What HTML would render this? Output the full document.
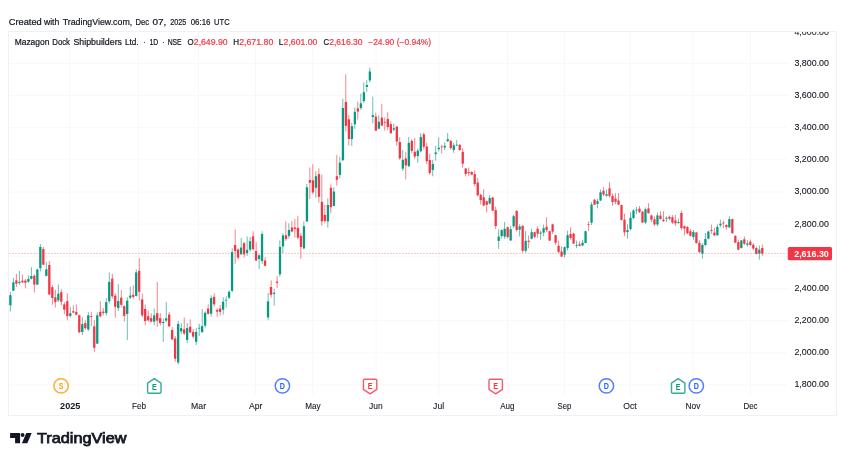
<!DOCTYPE html>
<html lang="en"><head><meta charset="utf-8"><title>Mazagon Dock Shipbuilders Ltd. chart</title>
<style>html,body{margin:0;padding:0;background:#fff}body{width:849px;height:458px;overflow:hidden}svg{display:block}text{font-family:"Liberation Sans",sans-serif}</style>
</head><body>
<svg width="849" height="458" viewBox="0 0 849 458">
<rect width="849" height="458" fill="#fff"/>
<g stroke="#f7f8fa" stroke-width="1">
<line x1="8.5" y1="384.9" x2="787.5" y2="384.9"/>
<line x1="8.5" y1="352.8" x2="787.5" y2="352.8"/>
<line x1="8.5" y1="320.6" x2="787.5" y2="320.6"/>
<line x1="8.5" y1="288.4" x2="787.5" y2="288.4"/>
<line x1="8.5" y1="256.3" x2="787.5" y2="256.3"/>
<line x1="8.5" y1="224.1" x2="787.5" y2="224.1"/>
<line x1="8.5" y1="192.0" x2="787.5" y2="192.0"/>
<line x1="8.5" y1="159.8" x2="787.5" y2="159.8"/>
<line x1="8.5" y1="127.7" x2="787.5" y2="127.7"/>
<line x1="8.5" y1="95.5" x2="787.5" y2="95.5"/>
<line x1="8.5" y1="63.4" x2="787.5" y2="63.4"/>
<line x1="69.4" y1="31.5" x2="69.4" y2="395.5"/>
<line x1="138.6" y1="31.5" x2="138.6" y2="395.5"/>
<line x1="198.6" y1="31.5" x2="198.6" y2="395.5"/>
<line x1="255.6" y1="31.5" x2="255.6" y2="395.5"/>
<line x1="312.8" y1="31.5" x2="312.8" y2="395.5"/>
<line x1="376" y1="31.5" x2="376" y2="395.5"/>
<line x1="439" y1="31.5" x2="439" y2="395.5"/>
<line x1="507.4" y1="31.5" x2="507.4" y2="395.5"/>
<line x1="564.4" y1="31.5" x2="564.4" y2="395.5"/>
<line x1="630" y1="31.5" x2="630" y2="395.5"/>
<line x1="693" y1="31.5" x2="693" y2="395.5"/>
<line x1="750.5" y1="31.5" x2="750.5" y2="395.5"/>
</g>
<rect x="8.5" y="31.5" width="828.0" height="384.0" fill="none" stroke="#f0f1f4" stroke-width="1"/>
<g id="candles">
<path d="M10.42 292.0V311.5" stroke="#089981" stroke-width="0.62" fill="none"/><rect x="9.24" y="295.2" width="2.3" height="10.1" fill="#089981"/>
<path d="M13.42 278.0V291.2" stroke="#089981" stroke-width="0.62" fill="none"/><rect x="12.23" y="282.3" width="2.3" height="8.4" fill="#089981"/>
<path d="M16.41 273.8V287.0" stroke="#F23645" stroke-width="0.62" fill="none"/><rect x="15.23" y="280.4" width="2.3" height="3.3" fill="#F23645"/>
<path d="M19.41 271.0V285.1" stroke="#089981" stroke-width="0.62" fill="none"/><rect x="18.22" y="281.8" width="2.3" height="1.1" fill="#089981"/>
<path d="M22.41 274.7V283.2" stroke="#F23645" stroke-width="0.62" fill="none"/><rect x="21.22" y="280.7" width="2.3" height="1.6" fill="#F23645"/>
<path d="M25.41 279.0V288.2" stroke="#F23645" stroke-width="0.62" fill="none"/><rect x="24.21" y="280.6" width="2.3" height="2.1" fill="#F23645"/>
<path d="M28.40 275.2V282.7" stroke="#089981" stroke-width="0.62" fill="none"/><rect x="27.21" y="279.0" width="2.3" height="2.8" fill="#089981"/>
<path d="M31.40 267.2V279.4" stroke="#089981" stroke-width="0.62" fill="none"/><rect x="30.21" y="276.0" width="2.3" height="2.8" fill="#089981"/>
<path d="M34.40 274.3V292.6" stroke="#F23645" stroke-width="0.62" fill="none"/><rect x="33.20" y="275.7" width="2.3" height="8.9" fill="#F23645"/>
<path d="M37.39 268.6V285.0" stroke="#089981" stroke-width="0.62" fill="none"/><rect x="36.20" y="269.5" width="2.3" height="15.1" fill="#089981"/>
<path d="M40.39 244.0V271.4" stroke="#089981" stroke-width="0.62" fill="none"/><rect x="39.19" y="247.0" width="2.3" height="21.1" fill="#089981"/>
<path d="M43.39 247.0V265.0" stroke="#F23645" stroke-width="0.62" fill="none"/><rect x="42.19" y="249.0" width="2.3" height="15.7" fill="#F23645"/>
<path d="M46.38 262.1V276.5" stroke="#089981" stroke-width="0.62" fill="none"/><rect x="45.18" y="269.3" width="2.3" height="6.6" fill="#089981"/>
<path d="M49.38 261.0V295.4" stroke="#F23645" stroke-width="0.62" fill="none"/><rect x="48.18" y="265.0" width="2.3" height="29.5" fill="#F23645"/>
<path d="M52.38 285.1V304.8" stroke="#F23645" stroke-width="0.62" fill="none"/><rect x="51.18" y="287.2" width="2.3" height="10.8" fill="#F23645"/>
<path d="M55.38 289.7V307.6" stroke="#F23645" stroke-width="0.62" fill="none"/><rect x="54.17" y="297.3" width="2.3" height="4.9" fill="#F23645"/>
<path d="M58.37 284.4V302.0" stroke="#089981" stroke-width="0.62" fill="none"/><rect x="57.17" y="293.7" width="2.3" height="6.7" fill="#089981"/>
<path d="M61.37 289.2V305.3" stroke="#F23645" stroke-width="0.62" fill="none"/><rect x="60.16" y="292.2" width="2.3" height="9.5" fill="#F23645"/>
<path d="M64.37 302.0V314.2" stroke="#F23645" stroke-width="0.62" fill="none"/><rect x="63.16" y="304.3" width="2.3" height="5.4" fill="#F23645"/>
<path d="M67.36 293.3V320.3" stroke="#F23645" stroke-width="0.62" fill="none"/><rect x="66.15" y="301.2" width="2.3" height="14.9" fill="#F23645"/>
<path d="M70.36 307.1V317.5" stroke="#089981" stroke-width="0.62" fill="none"/><rect x="69.15" y="313.3" width="2.3" height="2.6" fill="#089981"/>
<path d="M73.36 305.3V313.3" stroke="#F23645" stroke-width="0.62" fill="none"/><rect x="72.15" y="311.2" width="2.3" height="1.3" fill="#F23645"/>
<path d="M76.35 304.3V315.2" stroke="#F23645" stroke-width="0.62" fill="none"/><rect x="75.14" y="311.9" width="2.3" height="2.8" fill="#F23645"/>
<path d="M79.35 314.5V333.2" stroke="#F23645" stroke-width="0.62" fill="none"/><rect x="78.14" y="315.3" width="2.3" height="17.0" fill="#F23645"/>
<path d="M82.35 317.2V335.1" stroke="#089981" stroke-width="0.62" fill="none"/><rect x="81.13" y="324.1" width="2.3" height="7.9" fill="#089981"/>
<path d="M85.34 320.5V329.9" stroke="#F23645" stroke-width="0.62" fill="none"/><rect x="84.13" y="323.1" width="2.3" height="5.1" fill="#F23645"/>
<path d="M88.34 312.1V331.3" stroke="#089981" stroke-width="0.62" fill="none"/><rect x="87.12" y="315.3" width="2.3" height="14.1" fill="#089981"/>
<path d="M91.34 312.1V326.1" stroke="#F23645" stroke-width="0.62" fill="none"/><rect x="90.12" y="316.0" width="2.3" height="0.9" fill="#F23645"/>
<path d="M94.34 320.0V352.0" stroke="#F23645" stroke-width="0.62" fill="none"/><rect x="93.12" y="326.3" width="2.3" height="21.5" fill="#F23645"/>
<path d="M97.33 312.4V344.0" stroke="#089981" stroke-width="0.62" fill="none"/><rect x="96.11" y="315.3" width="2.3" height="28.3" fill="#089981"/>
<path d="M100.33 301.2V317.5" stroke="#F23645" stroke-width="0.62" fill="none"/><rect x="99.11" y="311.9" width="2.3" height="4.3" fill="#F23645"/>
<path d="M103.33 308.1V315.3" stroke="#F23645" stroke-width="0.62" fill="none"/><rect x="102.10" y="311.6" width="2.3" height="1.3" fill="#F23645"/>
<path d="M106.32 298.2V315.5" stroke="#089981" stroke-width="0.62" fill="none"/><rect x="105.10" y="302.2" width="2.3" height="10.9" fill="#089981"/>
<path d="M109.32 272.4V303.3" stroke="#089981" stroke-width="0.62" fill="none"/><rect x="108.09" y="281.9" width="2.3" height="19.3" fill="#089981"/>
<path d="M112.32 273.9V298.6" stroke="#F23645" stroke-width="0.62" fill="none"/><rect x="111.09" y="278.6" width="2.3" height="17.7" fill="#F23645"/>
<path d="M115.31 293.3V317.7" stroke="#F23645" stroke-width="0.62" fill="none"/><rect x="114.09" y="295.7" width="2.3" height="11.1" fill="#F23645"/>
<path d="M118.31 284.2V311.0" stroke="#089981" stroke-width="0.62" fill="none"/><rect x="117.08" y="301.1" width="2.3" height="7.0" fill="#089981"/>
<path d="M121.31 289.9V307.5" stroke="#F23645" stroke-width="0.62" fill="none"/><rect x="120.08" y="297.7" width="2.3" height="7.1" fill="#F23645"/>
<path d="M124.31 305.0V321.6" stroke="#F23645" stroke-width="0.62" fill="none"/><rect x="123.07" y="306.2" width="2.3" height="9.7" fill="#F23645"/>
<path d="M127.30 297.1V340.0" stroke="#089981" stroke-width="0.62" fill="none"/><rect x="126.07" y="300.6" width="2.3" height="13.4" fill="#089981"/>
<path d="M130.30 286.6V299.0" stroke="#089981" stroke-width="0.62" fill="none"/><rect x="129.06" y="295.6" width="2.3" height="2.1" fill="#089981"/>
<path d="M133.30 285.6V298.7" stroke="#F23645" stroke-width="0.62" fill="none"/><rect x="132.06" y="294.8" width="2.3" height="2.1" fill="#F23645"/>
<path d="M136.29 269.6V296.6" stroke="#089981" stroke-width="0.62" fill="none"/><rect x="135.06" y="272.4" width="2.3" height="23.5" fill="#089981"/>
<path d="M139.29 258.3V300.4" stroke="#F23645" stroke-width="0.62" fill="none"/><rect x="138.05" y="270.8" width="2.3" height="21.0" fill="#F23645"/>
<path d="M142.29 293.5V317.3" stroke="#F23645" stroke-width="0.62" fill="none"/><rect x="141.05" y="299.4" width="2.3" height="15.9" fill="#F23645"/>
<path d="M145.28 304.6V325.3" stroke="#F23645" stroke-width="0.62" fill="none"/><rect x="144.04" y="309.0" width="2.3" height="12.1" fill="#F23645"/>
<path d="M148.28 310.3V321.6" stroke="#F23645" stroke-width="0.62" fill="none"/><rect x="147.04" y="316.2" width="2.3" height="4.1" fill="#F23645"/>
<path d="M151.28 313.4V322.2" stroke="#F23645" stroke-width="0.62" fill="none"/><rect x="150.03" y="318.1" width="2.3" height="3.5" fill="#F23645"/>
<path d="M154.28 308.4V325.3" stroke="#089981" stroke-width="0.62" fill="none"/><rect x="153.03" y="315.3" width="2.3" height="6.3" fill="#089981"/>
<path d="M157.27 281.9V326.8" stroke="#F23645" stroke-width="0.62" fill="none"/><rect x="156.03" y="313.1" width="2.3" height="7.5" fill="#F23645"/>
<path d="M160.27 313.1V325.6" stroke="#F23645" stroke-width="0.62" fill="none"/><rect x="159.02" y="318.1" width="2.3" height="4.9" fill="#F23645"/>
<path d="M163.27 318.7V342.0" stroke="#089981" stroke-width="0.62" fill="none"/><rect x="162.02" y="322.0" width="2.3" height="1.0" fill="#089981"/>
<path d="M166.26 302.1V322.0" stroke="#089981" stroke-width="0.62" fill="none"/><rect x="165.01" y="318.3" width="2.3" height="2.3" fill="#089981"/>
<path d="M169.26 312.1V327.2" stroke="#F23645" stroke-width="0.62" fill="none"/><rect x="168.01" y="314.5" width="2.3" height="11.8" fill="#F23645"/>
<path d="M172.26 327.1V340.0" stroke="#F23645" stroke-width="0.62" fill="none"/><rect x="171.00" y="330.0" width="2.3" height="9.4" fill="#F23645"/>
<path d="M175.25 336.1V361.6" stroke="#F23645" stroke-width="0.62" fill="none"/><rect x="174.00" y="338.5" width="2.3" height="20.3" fill="#F23645"/>
<path d="M178.25 320.9V364.4" stroke="#089981" stroke-width="0.62" fill="none"/><rect x="177.00" y="323.9" width="2.3" height="38.6" fill="#089981"/>
<path d="M181.25 323.0V334.3" stroke="#089981" stroke-width="0.62" fill="none"/><rect x="179.99" y="328.1" width="2.3" height="3.3" fill="#089981"/>
<path d="M184.25 317.5V335.2" stroke="#F23645" stroke-width="0.62" fill="none"/><rect x="182.99" y="329.4" width="2.3" height="4.1" fill="#F23645"/>
<path d="M187.24 323.0V343.2" stroke="#089981" stroke-width="0.62" fill="none"/><rect x="185.98" y="328.1" width="2.3" height="11.8" fill="#089981"/>
<path d="M190.24 319.4V333.3" stroke="#F23645" stroke-width="0.62" fill="none"/><rect x="188.98" y="326.8" width="2.3" height="5.6" fill="#F23645"/>
<path d="M193.24 329.0V338.5" stroke="#F23645" stroke-width="0.62" fill="none"/><rect x="191.97" y="331.9" width="2.3" height="4.7" fill="#F23645"/>
<path d="M196.23 328.1V345.1" stroke="#089981" stroke-width="0.62" fill="none"/><rect x="194.97" y="331.9" width="2.3" height="9.9" fill="#089981"/>
<path d="M199.23 323.8V336.1" stroke="#089981" stroke-width="0.62" fill="none"/><rect x="197.97" y="327.8" width="2.3" height="0.8" fill="#089981"/>
<path d="M202.23 309.0V332.6" stroke="#089981" stroke-width="0.62" fill="none"/><rect x="200.96" y="326.1" width="2.3" height="6.1" fill="#089981"/>
<path d="M205.22 311.4V327.6" stroke="#089981" stroke-width="0.62" fill="none"/><rect x="203.96" y="312.8" width="2.3" height="12.8" fill="#089981"/>
<path d="M208.22 304.3V314.7" stroke="#F23645" stroke-width="0.62" fill="none"/><rect x="206.95" y="308.6" width="2.3" height="5.1" fill="#F23645"/>
<path d="M211.22 295.4V316.6" stroke="#089981" stroke-width="0.62" fill="none"/><rect x="209.95" y="298.0" width="2.3" height="15.7" fill="#089981"/>
<path d="M214.22 293.3V306.7" stroke="#F23645" stroke-width="0.62" fill="none"/><rect x="212.94" y="296.8" width="2.3" height="7.5" fill="#F23645"/>
<path d="M217.21 308.1V316.9" stroke="#F23645" stroke-width="0.62" fill="none"/><rect x="215.94" y="310.0" width="2.3" height="1.6" fill="#F23645"/>
<path d="M220.21 304.8V315.6" stroke="#F23645" stroke-width="0.62" fill="none"/><rect x="218.93" y="308.6" width="2.3" height="3.3" fill="#F23645"/>
<path d="M223.21 297.3V314.7" stroke="#089981" stroke-width="0.62" fill="none"/><rect x="221.93" y="301.8" width="2.3" height="7.9" fill="#089981"/>
<path d="M226.20 296.3V307.6" stroke="#089981" stroke-width="0.62" fill="none"/><rect x="224.93" y="299.9" width="2.3" height="0.7" fill="#089981"/>
<path d="M229.20 290.2V299.0" stroke="#089981" stroke-width="0.62" fill="none"/><rect x="227.92" y="291.8" width="2.3" height="5.9" fill="#089981"/>
<path d="M232.20 248.3V292.1" stroke="#089981" stroke-width="0.62" fill="none"/><rect x="230.92" y="252.0" width="2.3" height="38.8" fill="#089981"/>
<path d="M235.19 229.4V263.8" stroke="#F23645" stroke-width="0.62" fill="none"/><rect x="233.91" y="245.0" width="2.3" height="6.1" fill="#F23645"/>
<path d="M238.19 248.3V259.6" stroke="#F23645" stroke-width="0.62" fill="none"/><rect x="236.91" y="249.5" width="2.3" height="8.2" fill="#F23645"/>
<path d="M241.19 237.9V255.3" stroke="#089981" stroke-width="0.62" fill="none"/><rect x="239.90" y="247.6" width="2.3" height="6.6" fill="#089981"/>
<path d="M244.19 242.1V257.7" stroke="#F23645" stroke-width="0.62" fill="none"/><rect x="242.90" y="243.1" width="2.3" height="11.3" fill="#F23645"/>
<path d="M247.18 236.5V255.8" stroke="#089981" stroke-width="0.62" fill="none"/><rect x="245.90" y="249.9" width="2.3" height="3.1" fill="#089981"/>
<path d="M250.18 237.0V251.6" stroke="#089981" stroke-width="0.62" fill="none"/><rect x="248.89" y="241.2" width="2.3" height="8.5" fill="#089981"/>
<path d="M253.18 231.3V250.6" stroke="#F23645" stroke-width="0.62" fill="none"/><rect x="251.89" y="236.3" width="2.3" height="12.9" fill="#F23645"/>
<path d="M256.17 242.1V261.0" stroke="#F23645" stroke-width="0.62" fill="none"/><rect x="254.88" y="251.1" width="2.3" height="9.4" fill="#F23645"/>
<path d="M259.17 254.4V269.1" stroke="#089981" stroke-width="0.62" fill="none"/><rect x="257.88" y="255.3" width="2.3" height="3.8" fill="#089981"/>
<path d="M262.17 231.3V263.8" stroke="#089981" stroke-width="0.62" fill="none"/><rect x="260.87" y="234.1" width="2.3" height="26.9" fill="#089981"/>
<path d="M265.16 257.2V266.2" stroke="#F23645" stroke-width="0.62" fill="none"/><rect x="263.87" y="260.5" width="2.3" height="5.3" fill="#F23645"/>
<path d="M268.16 292.8V320.2" stroke="#089981" stroke-width="0.62" fill="none"/><rect x="266.87" y="301.4" width="2.3" height="15.9" fill="#089981"/>
<path d="M271.16 280.4V297.7" stroke="#F23645" stroke-width="0.62" fill="none"/><rect x="269.86" y="287.0" width="2.3" height="7.9" fill="#F23645"/>
<path d="M274.16 288.9V305.6" stroke="#089981" stroke-width="0.62" fill="none"/><rect x="272.86" y="292.7" width="2.3" height="1.2" fill="#089981"/>
<path d="M277.15 276.1V287.9" stroke="#F23645" stroke-width="0.62" fill="none"/><rect x="275.85" y="281.6" width="2.3" height="1.3" fill="#F23645"/>
<path d="M279.85 240.3V276.6" stroke="#089981" stroke-width="0.62" fill="none"/><rect x="278.85" y="246.9" width="2.3" height="27.4" fill="#089981"/>
<path d="M282.85 233.2V253.0" stroke="#089981" stroke-width="0.62" fill="none"/><rect x="281.84" y="235.4" width="2.3" height="11.0" fill="#089981"/>
<path d="M285.84 221.4V240.8" stroke="#F23645" stroke-width="0.62" fill="none"/><rect x="284.84" y="235.3" width="2.3" height="3.6" fill="#F23645"/>
<path d="M288.84 223.3V238.5" stroke="#089981" stroke-width="0.62" fill="none"/><rect x="287.84" y="230.0" width="2.3" height="5.9" fill="#089981"/>
<path d="M291.84 221.0V232.3" stroke="#F23645" stroke-width="0.62" fill="none"/><rect x="290.83" y="227.5" width="2.3" height="4.0" fill="#F23645"/>
<path d="M294.83 219.1V237.6" stroke="#F23645" stroke-width="0.62" fill="none"/><rect x="293.83" y="227.5" width="2.3" height="1.5" fill="#F23645"/>
<path d="M297.83 215.8V239.4" stroke="#F23645" stroke-width="0.62" fill="none"/><rect x="296.82" y="227.9" width="2.3" height="9.7" fill="#F23645"/>
<path d="M300.83 232.8V258.8" stroke="#F23645" stroke-width="0.62" fill="none"/><rect x="299.82" y="235.8" width="2.3" height="11.2" fill="#F23645"/>
<path d="M303.83 221.4V249.0" stroke="#089981" stroke-width="0.62" fill="none"/><rect x="302.81" y="226.2" width="2.3" height="22.2" fill="#089981"/>
<path d="M306.82 184.0V222.0" stroke="#089981" stroke-width="0.62" fill="none"/><rect x="305.81" y="187.3" width="2.3" height="34.1" fill="#089981"/>
<path d="M309.82 167.5V199.2" stroke="#F23645" stroke-width="0.62" fill="none"/><rect x="308.81" y="180.0" width="2.3" height="2.8" fill="#F23645"/>
<path d="M312.82 164.2V194.4" stroke="#F23645" stroke-width="0.62" fill="none"/><rect x="311.80" y="180.3" width="2.3" height="12.2" fill="#F23645"/>
<path d="M315.81 171.3V197.7" stroke="#089981" stroke-width="0.62" fill="none"/><rect x="314.80" y="176.2" width="2.3" height="11.6" fill="#089981"/>
<path d="M318.81 168.3V202.6" stroke="#F23645" stroke-width="0.62" fill="none"/><rect x="317.79" y="174.1" width="2.3" height="22.7" fill="#F23645"/>
<path d="M321.81 174.6V225.7" stroke="#F23645" stroke-width="0.62" fill="none"/><rect x="320.79" y="201.8" width="2.3" height="19.6" fill="#F23645"/>
<path d="M324.80 205.0V223.3" stroke="#F23645" stroke-width="0.62" fill="none"/><rect x="323.78" y="214.9" width="2.3" height="6.1" fill="#F23645"/>
<path d="M327.80 198.3V227.6" stroke="#089981" stroke-width="0.62" fill="none"/><rect x="326.78" y="205.0" width="2.3" height="16.4" fill="#089981"/>
<path d="M330.80 184.5V213.4" stroke="#F23645" stroke-width="0.62" fill="none"/><rect x="329.78" y="187.8" width="2.3" height="19.5" fill="#F23645"/>
<path d="M333.80 187.3V206.5" stroke="#089981" stroke-width="0.62" fill="none"/><rect x="332.77" y="191.6" width="2.3" height="14.3" fill="#089981"/>
<path d="M336.79 155.0V185.6" stroke="#F23645" stroke-width="0.62" fill="none"/><rect x="335.77" y="176.2" width="2.3" height="3.6" fill="#F23645"/>
<path d="M339.79 156.9V178.4" stroke="#089981" stroke-width="0.62" fill="none"/><rect x="338.76" y="162.7" width="2.3" height="12.2" fill="#089981"/>
<path d="M342.79 98.6V161.0" stroke="#089981" stroke-width="0.62" fill="none"/><rect x="341.76" y="108.0" width="2.3" height="52.2" fill="#089981"/>
<path d="M345.78 74.3V131.4" stroke="#F23645" stroke-width="0.62" fill="none"/><rect x="344.75" y="101.9" width="2.3" height="23.9" fill="#F23645"/>
<path d="M348.78 115.1V145.6" stroke="#F23645" stroke-width="0.62" fill="none"/><rect x="347.75" y="119.3" width="2.3" height="19.7" fill="#F23645"/>
<path d="M351.78 123.0V146.0" stroke="#089981" stroke-width="0.62" fill="none"/><rect x="350.75" y="126.1" width="2.3" height="12.9" fill="#089981"/>
<path d="M354.77 107.6V129.0" stroke="#089981" stroke-width="0.62" fill="none"/><rect x="353.74" y="111.8" width="2.3" height="12.4" fill="#089981"/>
<path d="M357.77 101.4V119.6" stroke="#F23645" stroke-width="0.62" fill="none"/><rect x="356.74" y="108.3" width="2.3" height="3.2" fill="#F23645"/>
<path d="M360.77 93.7V109.9" stroke="#089981" stroke-width="0.62" fill="none"/><rect x="359.73" y="103.3" width="2.3" height="4.7" fill="#089981"/>
<path d="M363.77 82.3V102.9" stroke="#089981" stroke-width="0.62" fill="none"/><rect x="362.73" y="92.2" width="2.3" height="8.8" fill="#089981"/>
<path d="M366.76 80.0V91.9" stroke="#089981" stroke-width="0.62" fill="none"/><rect x="365.72" y="85.0" width="2.3" height="1.9" fill="#089981"/>
<path d="M369.76 67.7V82.3" stroke="#089981" stroke-width="0.62" fill="none"/><rect x="368.72" y="71.5" width="2.3" height="8.9" fill="#089981"/>
<path d="M372.76 96.6V123.2" stroke="#089981" stroke-width="0.62" fill="none"/><rect x="371.72" y="115.1" width="2.3" height="1.9" fill="#089981"/>
<path d="M375.75 112.7V131.0" stroke="#F23645" stroke-width="0.62" fill="none"/><rect x="374.71" y="116.6" width="2.3" height="14.0" fill="#F23645"/>
<path d="M378.75 115.4V129.2" stroke="#089981" stroke-width="0.62" fill="none"/><rect x="377.71" y="121.8" width="2.3" height="6.9" fill="#089981"/>
<path d="M381.75 103.8V126.2" stroke="#F23645" stroke-width="0.62" fill="none"/><rect x="380.70" y="117.6" width="2.3" height="8.0" fill="#F23645"/>
<path d="M384.74 117.4V130.6" stroke="#F23645" stroke-width="0.62" fill="none"/><rect x="383.70" y="122.1" width="2.3" height="0.7" fill="#F23645"/>
<path d="M387.74 112.3V130.3" stroke="#F23645" stroke-width="0.62" fill="none"/><rect x="386.69" y="119.0" width="2.3" height="8.0" fill="#F23645"/>
<path d="M390.74 121.3V133.7" stroke="#F23645" stroke-width="0.62" fill="none"/><rect x="389.69" y="124.2" width="2.3" height="9.0" fill="#F23645"/>
<path d="M393.73 123.6V131.2" stroke="#089981" stroke-width="0.62" fill="none"/><rect x="392.69" y="128.3" width="2.3" height="1.4" fill="#089981"/>
<path d="M396.73 126.0V145.8" stroke="#F23645" stroke-width="0.62" fill="none"/><rect x="395.68" y="126.6" width="2.3" height="14.9" fill="#F23645"/>
<path d="M399.73 137.2V159.8" stroke="#F23645" stroke-width="0.62" fill="none"/><rect x="398.68" y="142.0" width="2.3" height="16.4" fill="#F23645"/>
<path d="M402.73 149.9V171.1" stroke="#089981" stroke-width="0.62" fill="none"/><rect x="401.67" y="159.8" width="2.3" height="8.9" fill="#089981"/>
<path d="M405.72 151.7V179.6" stroke="#F23645" stroke-width="0.62" fill="none"/><rect x="404.67" y="158.4" width="2.3" height="7.0" fill="#F23645"/>
<path d="M408.72 136.9V166.9" stroke="#089981" stroke-width="0.62" fill="none"/><rect x="407.66" y="142.9" width="2.3" height="23.3" fill="#089981"/>
<path d="M411.72 139.2V153.2" stroke="#F23645" stroke-width="0.62" fill="none"/><rect x="410.66" y="140.9" width="2.3" height="10.0" fill="#F23645"/>
<path d="M414.71 137.8V158.9" stroke="#F23645" stroke-width="0.62" fill="none"/><rect x="413.66" y="151.8" width="2.3" height="4.7" fill="#F23645"/>
<path d="M417.71 148.5V162.6" stroke="#089981" stroke-width="0.62" fill="none"/><rect x="416.65" y="150.7" width="2.3" height="5.3" fill="#089981"/>
<path d="M420.71 133.1V152.3" stroke="#089981" stroke-width="0.62" fill="none"/><rect x="419.65" y="137.1" width="2.3" height="14.1" fill="#089981"/>
<path d="M423.70 132.6V149.5" stroke="#F23645" stroke-width="0.62" fill="none"/><rect x="422.64" y="134.3" width="2.3" height="12.4" fill="#F23645"/>
<path d="M426.70 142.7V164.0" stroke="#F23645" stroke-width="0.62" fill="none"/><rect x="425.64" y="146.5" width="2.3" height="14.7" fill="#F23645"/>
<path d="M429.70 153.7V174.9" stroke="#F23645" stroke-width="0.62" fill="none"/><rect x="428.63" y="160.0" width="2.3" height="13.0" fill="#F23645"/>
<path d="M432.70 159.8V176.3" stroke="#089981" stroke-width="0.62" fill="none"/><rect x="431.63" y="164.0" width="2.3" height="6.0" fill="#089981"/>
<path d="M435.69 146.0V160.7" stroke="#089981" stroke-width="0.62" fill="none"/><rect x="434.63" y="152.4" width="2.3" height="1.7" fill="#089981"/>
<path d="M438.69 137.3V151.4" stroke="#089981" stroke-width="0.62" fill="none"/><rect x="437.62" y="147.7" width="2.3" height="1.5" fill="#089981"/>
<path d="M441.69 144.8V153.5" stroke="#F23645" stroke-width="0.62" fill="none"/><rect x="440.62" y="146.6" width="2.3" height="0.7" fill="#F23645"/>
<path d="M444.68 142.2V150.0" stroke="#089981" stroke-width="0.62" fill="none"/><rect x="443.61" y="145.8" width="2.3" height="1.6" fill="#089981"/>
<path d="M447.68 133.0V142.0" stroke="#089981" stroke-width="0.62" fill="none"/><rect x="446.61" y="139.2" width="2.3" height="2.0" fill="#089981"/>
<path d="M450.68 140.0V149.5" stroke="#F23645" stroke-width="0.62" fill="none"/><rect x="449.60" y="140.9" width="2.3" height="7.2" fill="#F23645"/>
<path d="M453.67 142.9V152.8" stroke="#089981" stroke-width="0.62" fill="none"/><rect x="452.60" y="145.3" width="2.3" height="4.7" fill="#089981"/>
<path d="M456.67 140.1V146.0" stroke="#089981" stroke-width="0.62" fill="none"/><rect x="455.60" y="144.7" width="2.3" height="0.7" fill="#089981"/>
<path d="M459.67 144.3V150.9" stroke="#F23645" stroke-width="0.62" fill="none"/><rect x="458.59" y="144.8" width="2.3" height="5.2" fill="#F23645"/>
<path d="M462.67 148.1V167.5" stroke="#F23645" stroke-width="0.62" fill="none"/><rect x="461.59" y="151.9" width="2.3" height="11.8" fill="#F23645"/>
<path d="M465.66 168.0V176.5" stroke="#F23645" stroke-width="0.62" fill="none"/><rect x="464.58" y="168.5" width="2.3" height="5.5" fill="#F23645"/>
<path d="M468.66 167.5V176.0" stroke="#F23645" stroke-width="0.62" fill="none"/><rect x="467.58" y="172.0" width="2.3" height="1.0" fill="#F23645"/>
<path d="M471.66 171.3V175.1" stroke="#F23645" stroke-width="0.62" fill="none"/><rect x="470.57" y="172.0" width="2.3" height="2.6" fill="#F23645"/>
<path d="M474.65 170.4V185.9" stroke="#F23645" stroke-width="0.62" fill="none"/><rect x="473.57" y="174.1" width="2.3" height="9.9" fill="#F23645"/>
<path d="M477.65 177.9V196.3" stroke="#F23645" stroke-width="0.62" fill="none"/><rect x="476.57" y="182.6" width="2.3" height="12.7" fill="#F23645"/>
<path d="M480.65 193.5V204.4" stroke="#F23645" stroke-width="0.62" fill="none"/><rect x="479.56" y="194.9" width="2.3" height="5.2" fill="#F23645"/>
<path d="M483.64 189.2V206.3" stroke="#F23645" stroke-width="0.62" fill="none"/><rect x="482.56" y="197.3" width="2.3" height="8.1" fill="#F23645"/>
<path d="M486.64 200.6V212.4" stroke="#F23645" stroke-width="0.62" fill="none"/><rect x="485.55" y="201.3" width="2.3" height="3.6" fill="#F23645"/>
<path d="M489.64 195.3V204.4" stroke="#089981" stroke-width="0.62" fill="none"/><rect x="488.55" y="198.0" width="2.3" height="5.5" fill="#089981"/>
<path d="M492.64 197.0V211.0" stroke="#F23645" stroke-width="0.62" fill="none"/><rect x="491.54" y="197.5" width="2.3" height="13.1" fill="#F23645"/>
<path d="M495.63 206.8V229.0" stroke="#F23645" stroke-width="0.62" fill="none"/><rect x="494.54" y="210.1" width="2.3" height="15.9" fill="#F23645"/>
<path d="M498.63 229.4V248.9" stroke="#089981" stroke-width="0.62" fill="none"/><rect x="497.54" y="236.6" width="2.3" height="4.3" fill="#089981"/>
<path d="M501.63 229.3V238.5" stroke="#089981" stroke-width="0.62" fill="none"/><rect x="500.53" y="230.1" width="2.3" height="5.9" fill="#089981"/>
<path d="M504.62 221.9V239.0" stroke="#089981" stroke-width="0.62" fill="none"/><rect x="503.53" y="228.8" width="2.3" height="7.8" fill="#089981"/>
<path d="M507.62 226.6V238.5" stroke="#F23645" stroke-width="0.62" fill="none"/><rect x="506.52" y="227.2" width="2.3" height="9.9" fill="#F23645"/>
<path d="M510.62 226.0V241.0" stroke="#089981" stroke-width="0.62" fill="none"/><rect x="509.52" y="229.2" width="2.3" height="11.2" fill="#089981"/>
<path d="M513.61 214.8V228.0" stroke="#089981" stroke-width="0.62" fill="none"/><rect x="512.51" y="216.2" width="2.3" height="10.0" fill="#089981"/>
<path d="M516.61 210.1V231.6" stroke="#F23645" stroke-width="0.62" fill="none"/><rect x="515.51" y="211.0" width="2.3" height="19.0" fill="#F23645"/>
<path d="M519.61 224.2V236.6" stroke="#089981" stroke-width="0.62" fill="none"/><rect x="518.50" y="226.4" width="2.3" height="3.2" fill="#089981"/>
<path d="M522.61 225.3V252.6" stroke="#F23645" stroke-width="0.62" fill="none"/><rect x="521.50" y="225.8" width="2.3" height="25.0" fill="#F23645"/>
<path d="M525.60 231.1V252.6" stroke="#089981" stroke-width="0.62" fill="none"/><rect x="524.50" y="240.8" width="2.3" height="10.0" fill="#089981"/>
<path d="M528.60 235.5V248.3" stroke="#F23645" stroke-width="0.62" fill="none"/><rect x="527.49" y="240.7" width="2.3" height="1.1" fill="#F23645"/>
<path d="M531.60 228.7V239.3" stroke="#089981" stroke-width="0.62" fill="none"/><rect x="530.49" y="232.2" width="2.3" height="6.6" fill="#089981"/>
<path d="M534.59 231.7V238.4" stroke="#F23645" stroke-width="0.62" fill="none"/><rect x="533.48" y="232.2" width="2.3" height="4.7" fill="#F23645"/>
<path d="M537.59 226.4V237.7" stroke="#F23645" stroke-width="0.62" fill="none"/><rect x="536.48" y="228.8" width="2.3" height="5.0" fill="#F23645"/>
<path d="M540.59 230.7V239.7" stroke="#089981" stroke-width="0.62" fill="none"/><rect x="539.47" y="232.6" width="2.3" height="1.0" fill="#089981"/>
<path d="M543.58 224.6V236.4" stroke="#089981" stroke-width="0.62" fill="none"/><rect x="542.47" y="228.2" width="2.3" height="4.4" fill="#089981"/>
<path d="M546.58 217.2V232.1" stroke="#F23645" stroke-width="0.62" fill="none"/><rect x="545.47" y="226.7" width="2.3" height="3.4" fill="#F23645"/>
<path d="M549.58 230.7V241.1" stroke="#F23645" stroke-width="0.62" fill="none"/><rect x="548.46" y="231.2" width="2.3" height="9.4" fill="#F23645"/>
<path d="M552.58 223.7V234.0" stroke="#F23645" stroke-width="0.62" fill="none"/><rect x="551.46" y="224.4" width="2.3" height="7.3" fill="#F23645"/>
<path d="M555.57 234.8V244.9" stroke="#F23645" stroke-width="0.62" fill="none"/><rect x="554.45" y="235.2" width="2.3" height="7.5" fill="#F23645"/>
<path d="M558.57 240.6V253.3" stroke="#F23645" stroke-width="0.62" fill="none"/><rect x="557.45" y="245.8" width="2.3" height="6.1" fill="#F23645"/>
<path d="M561.57 246.3V257.1" stroke="#F23645" stroke-width="0.62" fill="none"/><rect x="560.44" y="251.5" width="2.3" height="5.1" fill="#F23645"/>
<path d="M564.56 246.3V257.6" stroke="#089981" stroke-width="0.62" fill="none"/><rect x="563.44" y="247.2" width="2.3" height="7.6" fill="#089981"/>
<path d="M567.56 230.7V250.5" stroke="#089981" stroke-width="0.62" fill="none"/><rect x="566.44" y="235.2" width="2.3" height="12.8" fill="#089981"/>
<path d="M570.56 227.4V239.7" stroke="#F23645" stroke-width="0.62" fill="none"/><rect x="569.43" y="234.0" width="2.3" height="4.0" fill="#F23645"/>
<path d="M573.55 232.6V244.0" stroke="#F23645" stroke-width="0.62" fill="none"/><rect x="572.43" y="233.6" width="2.3" height="10.0" fill="#F23645"/>
<path d="M576.55 240.6V248.2" stroke="#089981" stroke-width="0.62" fill="none"/><rect x="575.42" y="245.1" width="2.3" height="0.8" fill="#089981"/>
<path d="M579.55 241.1V246.3" stroke="#F23645" stroke-width="0.62" fill="none"/><rect x="578.42" y="244.2" width="2.3" height="1.6" fill="#F23645"/>
<path d="M582.55 239.7V246.1" stroke="#089981" stroke-width="0.62" fill="none"/><rect x="581.41" y="242.7" width="2.3" height="2.8" fill="#089981"/>
<path d="M585.54 230.7V243.3" stroke="#089981" stroke-width="0.62" fill="none"/><rect x="584.41" y="231.2" width="2.3" height="11.8" fill="#089981"/>
<path d="M588.54 221.4V231.0" stroke="#F23645" stroke-width="0.62" fill="none"/><rect x="587.41" y="224.3" width="2.3" height="0.7" fill="#F23645"/>
<path d="M591.54 202.1V225.1" stroke="#089981" stroke-width="0.62" fill="none"/><rect x="590.40" y="204.5" width="2.3" height="18.2" fill="#089981"/>
<path d="M594.53 198.9V205.3" stroke="#F23645" stroke-width="0.62" fill="none"/><rect x="593.40" y="199.8" width="2.3" height="4.9" fill="#F23645"/>
<path d="M597.53 198.9V208.3" stroke="#089981" stroke-width="0.62" fill="none"/><rect x="596.39" y="201.2" width="2.3" height="2.8" fill="#089981"/>
<path d="M600.53 189.4V201.0" stroke="#089981" stroke-width="0.62" fill="none"/><rect x="599.39" y="192.3" width="2.3" height="8.2" fill="#089981"/>
<path d="M603.52 187.1V196.2" stroke="#F23645" stroke-width="0.62" fill="none"/><rect x="602.38" y="190.8" width="2.3" height="3.8" fill="#F23645"/>
<path d="M606.52 189.4V196.6" stroke="#089981" stroke-width="0.62" fill="none"/><rect x="605.38" y="194.3" width="2.3" height="1.5" fill="#089981"/>
<path d="M609.52 182.1V197.5" stroke="#F23645" stroke-width="0.62" fill="none"/><rect x="608.38" y="188.3" width="2.3" height="7.6" fill="#F23645"/>
<path d="M612.52 193.3V205.6" stroke="#F23645" stroke-width="0.62" fill="none"/><rect x="611.37" y="196.0" width="2.3" height="6.1" fill="#F23645"/>
<path d="M615.51 193.2V204.1" stroke="#F23645" stroke-width="0.62" fill="none"/><rect x="614.37" y="198.7" width="2.3" height="3.1" fill="#F23645"/>
<path d="M618.51 193.2V205.2" stroke="#F23645" stroke-width="0.62" fill="none"/><rect x="617.36" y="200.5" width="2.3" height="4.1" fill="#F23645"/>
<path d="M621.51 204.6V220.6" stroke="#F23645" stroke-width="0.62" fill="none"/><rect x="620.36" y="205.1" width="2.3" height="14.8" fill="#F23645"/>
<path d="M624.50 213.6V236.2" stroke="#F23645" stroke-width="0.62" fill="none"/><rect x="623.35" y="219.7" width="2.3" height="12.7" fill="#F23645"/>
<path d="M627.50 224.4V238.6" stroke="#089981" stroke-width="0.62" fill="none"/><rect x="626.35" y="230.1" width="2.3" height="1.9" fill="#089981"/>
<path d="M630.50 212.1V230.6" stroke="#089981" stroke-width="0.62" fill="none"/><rect x="629.35" y="217.7" width="2.3" height="11.4" fill="#089981"/>
<path d="M633.49 209.3V219.2" stroke="#089981" stroke-width="0.62" fill="none"/><rect x="632.34" y="210.5" width="2.3" height="7.6" fill="#089981"/>
<path d="M636.49 207.0V214.0" stroke="#089981" stroke-width="0.62" fill="none"/><rect x="635.34" y="209.6" width="2.3" height="0.8" fill="#089981"/>
<path d="M639.49 206.0V213.1" stroke="#F23645" stroke-width="0.62" fill="none"/><rect x="638.33" y="208.7" width="2.3" height="3.4" fill="#F23645"/>
<path d="M642.49 210.7V223.0" stroke="#F23645" stroke-width="0.62" fill="none"/><rect x="641.33" y="211.7" width="2.3" height="10.8" fill="#F23645"/>
<path d="M645.48 207.4V224.1" stroke="#089981" stroke-width="0.62" fill="none"/><rect x="644.32" y="209.3" width="2.3" height="13.2" fill="#089981"/>
<path d="M648.48 203.2V213.6" stroke="#F23645" stroke-width="0.62" fill="none"/><rect x="647.32" y="208.4" width="2.3" height="4.7" fill="#F23645"/>
<path d="M651.48 214.7V222.0" stroke="#F23645" stroke-width="0.62" fill="none"/><rect x="650.32" y="215.4" width="2.3" height="4.3" fill="#F23645"/>
<path d="M654.47 216.4V226.2" stroke="#F23645" stroke-width="0.62" fill="none"/><rect x="653.31" y="219.4" width="2.3" height="5.0" fill="#F23645"/>
<path d="M657.47 212.4V226.2" stroke="#089981" stroke-width="0.62" fill="none"/><rect x="656.31" y="215.4" width="2.3" height="9.0" fill="#089981"/>
<path d="M660.47 211.2V219.7" stroke="#F23645" stroke-width="0.62" fill="none"/><rect x="659.30" y="215.6" width="2.3" height="3.4" fill="#F23645"/>
<path d="M663.46 211.2V222.0" stroke="#F23645" stroke-width="0.62" fill="none"/><rect x="662.30" y="219.7" width="2.3" height="1.4" fill="#F23645"/>
<path d="M666.46 216.4V222.0" stroke="#089981" stroke-width="0.62" fill="none"/><rect x="665.29" y="217.8" width="2.3" height="0.9" fill="#089981"/>
<path d="M669.46 215.4V220.2" stroke="#F23645" stroke-width="0.62" fill="none"/><rect x="668.29" y="216.9" width="2.3" height="1.8" fill="#F23645"/>
<path d="M672.45 215.0V223.9" stroke="#F23645" stroke-width="0.62" fill="none"/><rect x="671.29" y="217.3" width="2.3" height="5.3" fill="#F23645"/>
<path d="M675.45 214.8V226.0" stroke="#F23645" stroke-width="0.62" fill="none"/><rect x="674.28" y="220.4" width="2.3" height="3.0" fill="#F23645"/>
<path d="M678.45 218.5V223.9" stroke="#089981" stroke-width="0.62" fill="none"/><rect x="677.28" y="222.0" width="2.3" height="1.0" fill="#089981"/>
<path d="M681.45 210.7V230.0" stroke="#F23645" stroke-width="0.62" fill="none"/><rect x="680.27" y="213.0" width="2.3" height="15.1" fill="#F23645"/>
<path d="M684.44 225.3V235.6" stroke="#F23645" stroke-width="0.62" fill="none"/><rect x="683.27" y="226.2" width="2.3" height="2.4" fill="#F23645"/>
<path d="M687.44 226.2V234.2" stroke="#F23645" stroke-width="0.62" fill="none"/><rect x="686.26" y="227.1" width="2.3" height="6.2" fill="#F23645"/>
<path d="M690.44 229.0V236.6" stroke="#F23645" stroke-width="0.62" fill="none"/><rect x="689.26" y="231.2" width="2.3" height="4.5" fill="#F23645"/>
<path d="M693.43 230.0V239.8" stroke="#089981" stroke-width="0.62" fill="none"/><rect x="692.26" y="232.0" width="2.3" height="5.0" fill="#089981"/>
<path d="M696.43 231.9V243.6" stroke="#F23645" stroke-width="0.62" fill="none"/><rect x="695.25" y="232.5" width="2.3" height="10.6" fill="#F23645"/>
<path d="M699.43 240.3V253.4" stroke="#F23645" stroke-width="0.62" fill="none"/><rect x="698.25" y="242.8" width="2.3" height="9.2" fill="#F23645"/>
<path d="M702.42 243.1V258.6" stroke="#089981" stroke-width="0.62" fill="none"/><rect x="701.24" y="245.0" width="2.3" height="8.6" fill="#089981"/>
<path d="M705.42 233.0V246.4" stroke="#089981" stroke-width="0.62" fill="none"/><rect x="704.24" y="239.0" width="2.3" height="6.0" fill="#089981"/>
<path d="M708.42 230.8V239.3" stroke="#089981" stroke-width="0.62" fill="none"/><rect x="707.23" y="231.5" width="2.3" height="7.2" fill="#089981"/>
<path d="M711.42 224.6V233.9" stroke="#F23645" stroke-width="0.62" fill="none"/><rect x="710.23" y="230.0" width="2.3" height="0.9" fill="#F23645"/>
<path d="M714.41 227.6V236.0" stroke="#F23645" stroke-width="0.62" fill="none"/><rect x="713.23" y="232.6" width="2.3" height="2.7" fill="#F23645"/>
<path d="M717.41 224.3V235.8" stroke="#089981" stroke-width="0.62" fill="none"/><rect x="716.22" y="226.9" width="2.3" height="8.4" fill="#089981"/>
<path d="M720.41 219.6V227.1" stroke="#089981" stroke-width="0.62" fill="none"/><rect x="719.22" y="223.7" width="2.3" height="1.6" fill="#089981"/>
<path d="M723.40 220.6V228.1" stroke="#F23645" stroke-width="0.62" fill="none"/><rect x="722.21" y="222.6" width="2.3" height="0.8" fill="#F23645"/>
<path d="M726.40 224.3V229.5" stroke="#F23645" stroke-width="0.62" fill="none"/><rect x="725.21" y="225.0" width="2.3" height="2.1" fill="#F23645"/>
<path d="M729.40 216.3V227.8" stroke="#089981" stroke-width="0.62" fill="none"/><rect x="728.20" y="219.1" width="2.3" height="8.3" fill="#089981"/>
<path d="M732.39 218.6V233.8" stroke="#F23645" stroke-width="0.62" fill="none"/><rect x="731.20" y="219.1" width="2.3" height="14.0" fill="#F23645"/>
<path d="M735.39 235.3V243.1" stroke="#F23645" stroke-width="0.62" fill="none"/><rect x="734.20" y="235.9" width="2.3" height="6.7" fill="#F23645"/>
<path d="M738.39 239.6V250.2" stroke="#F23645" stroke-width="0.62" fill="none"/><rect x="737.19" y="242.1" width="2.3" height="7.6" fill="#F23645"/>
<path d="M741.39 240.0V248.6" stroke="#089981" stroke-width="0.62" fill="none"/><rect x="740.19" y="240.4" width="2.3" height="7.6" fill="#089981"/>
<path d="M744.38 236.5V245.1" stroke="#F23645" stroke-width="0.62" fill="none"/><rect x="743.18" y="239.3" width="2.3" height="4.4" fill="#F23645"/>
<path d="M747.38 240.1V246.6" stroke="#089981" stroke-width="0.62" fill="none"/><rect x="746.18" y="243.4" width="2.3" height="1.4" fill="#089981"/>
<path d="M750.38 239.5V245.9" stroke="#F23645" stroke-width="0.62" fill="none"/><rect x="749.17" y="241.7" width="2.3" height="3.3" fill="#F23645"/>
<path d="M753.37 243.1V249.7" stroke="#F23645" stroke-width="0.62" fill="none"/><rect x="752.17" y="244.8" width="2.3" height="3.7" fill="#F23645"/>
<path d="M756.37 246.4V254.4" stroke="#F23645" stroke-width="0.62" fill="none"/><rect x="755.17" y="248.0" width="2.3" height="5.9" fill="#F23645"/>
<path d="M759.37 245.4V259.6" stroke="#089981" stroke-width="0.62" fill="none"/><rect x="758.16" y="249.7" width="2.3" height="3.9" fill="#089981"/>
<path d="M762.36 244.5V255.8" stroke="#F23645" stroke-width="0.62" fill="none"/><rect x="761.16" y="248.0" width="2.3" height="5.6" fill="#F23645"/>
</g>
<line x1="9" y1="253.4" x2="787.5" y2="253.4" stroke="#F23645" stroke-width="1" stroke-dasharray="1.9 1.1" opacity="0.31"/>
<text x="8.7" y="25.3" font-size="8.6" fill="#131722" textLength="33.1" lengthAdjust="spacingAndGlyphs" stroke="#131722" stroke-width="0.2">Created</text>
<text x="43.9" y="25.3" font-size="8.6" fill="#131722" textLength="15.4" lengthAdjust="spacingAndGlyphs" stroke="#131722" stroke-width="0.2">with</text>
<text x="62.7" y="25.3" font-size="8.6" fill="#131722" textLength="69.5" lengthAdjust="spacingAndGlyphs" stroke="#131722" stroke-width="0.2">TradingView.com,</text>
<text x="135.6" y="25.3" font-size="8.6" fill="#131722" textLength="13.6" lengthAdjust="spacingAndGlyphs" stroke="#131722" stroke-width="0.2">Dec</text>
<text x="152.5" y="25.3" font-size="8.6" fill="#131722" textLength="13.9" lengthAdjust="spacingAndGlyphs" stroke="#131722" stroke-width="0.2">07,</text>
<text x="170.3" y="25.3" font-size="8.6" fill="#131722" textLength="16.1" lengthAdjust="spacingAndGlyphs" stroke="#131722" stroke-width="0.2">2025</text>
<text x="190.7" y="25.3" font-size="8.6" fill="#131722" textLength="19.8" lengthAdjust="spacingAndGlyphs" stroke="#131722" stroke-width="0.2">06:16</text>
<text x="214.1" y="25.3" font-size="8.6" fill="#131722" textLength="15.5" lengthAdjust="spacingAndGlyphs" stroke="#131722" stroke-width="0.2">UTC</text>
<text x="14.7" y="45" font-size="8.2" fill="#131722" textLength="34.7" lengthAdjust="spacingAndGlyphs" stroke="#131722" stroke-width="0.2">Mazagon</text>
<text x="52.3" y="45" font-size="8.2" fill="#131722" textLength="17.7" lengthAdjust="spacingAndGlyphs" stroke="#131722" stroke-width="0.2">Dock</text>
<text x="73.4" y="45" font-size="8.2" fill="#131722" textLength="48.6" lengthAdjust="spacingAndGlyphs" stroke="#131722" stroke-width="0.2">Shipbuilders</text>
<text x="124.9" y="45" font-size="8.2" fill="#131722" textLength="13.7" lengthAdjust="spacingAndGlyphs" stroke="#131722" stroke-width="0.2">Ltd.</text>
<text x="143.4" y="45" font-size="8.2" fill="#131722" textLength="2.2" lengthAdjust="spacingAndGlyphs" stroke="#131722" stroke-width="0.2">·</text>
<text x="149.4" y="45" font-size="8.2" fill="#131722" textLength="8.7" lengthAdjust="spacingAndGlyphs" stroke="#131722" stroke-width="0.2">1D</text>
<text x="162.3" y="45" font-size="8.2" fill="#131722" textLength="2.2" lengthAdjust="spacingAndGlyphs" stroke="#131722" stroke-width="0.2">·</text>
<text x="167.7" y="45" font-size="8.2" fill="#131722" textLength="13.9" lengthAdjust="spacingAndGlyphs" stroke="#131722" stroke-width="0.2">NSE</text>
<text x="187.5" y="45" font-size="8.2" fill="#131722" textLength="6.1" lengthAdjust="spacingAndGlyphs" stroke="#131722" stroke-width="0.2">O</text>
<text x="193.8" y="45" font-size="8.2" fill="#F23645" textLength="33.8" lengthAdjust="spacingAndGlyphs" stroke="#F23645" stroke-width="0.2">2,649.90</text>
<text x="233.2" y="45" font-size="8.2" fill="#131722" textLength="5.8" lengthAdjust="spacingAndGlyphs" stroke="#131722" stroke-width="0.2">H</text>
<text x="239.2" y="45" font-size="8.2" fill="#F23645" textLength="34.1" lengthAdjust="spacingAndGlyphs" stroke="#F23645" stroke-width="0.2">2,671.80</text>
<text x="278.8" y="45" font-size="8.2" fill="#131722" textLength="4.5" lengthAdjust="spacingAndGlyphs" stroke="#131722" stroke-width="0.2">L</text>
<text x="283.6" y="45" font-size="8.2" fill="#F23645" textLength="33.7" lengthAdjust="spacingAndGlyphs" stroke="#F23645" stroke-width="0.2">2,601.00</text>
<text x="323.4" y="45" font-size="8.2" fill="#131722" textLength="5.6" lengthAdjust="spacingAndGlyphs" stroke="#131722" stroke-width="0.2">C</text>
<text x="329.2" y="45" font-size="8.2" fill="#F23645" textLength="33.4" lengthAdjust="spacingAndGlyphs" stroke="#F23645" stroke-width="0.2">2,616.30</text>
<text x="368.2" y="45" font-size="8.2" fill="#F23645" textLength="63.0" lengthAdjust="spacingAndGlyphs" stroke="#F23645" stroke-width="0.2">−24.90 (−0.94%)</text>
<text x="794.4" y="387.3" font-size="9.6" fill="#131722" textLength="34.6" lengthAdjust="spacingAndGlyphs" stroke="#131722" stroke-width="0.1">1,800.00</text>
<text x="794.4" y="355.1" font-size="9.6" fill="#131722" textLength="34.6" lengthAdjust="spacingAndGlyphs" stroke="#131722" stroke-width="0.1">2,000.00</text>
<text x="794.4" y="323.0" font-size="9.6" fill="#131722" textLength="34.6" lengthAdjust="spacingAndGlyphs" stroke="#131722" stroke-width="0.1">2,200.00</text>
<text x="794.4" y="290.8" font-size="9.6" fill="#131722" textLength="34.6" lengthAdjust="spacingAndGlyphs" stroke="#131722" stroke-width="0.1">2,400.00</text>
<text x="794.4" y="226.5" font-size="9.6" fill="#131722" textLength="34.6" lengthAdjust="spacingAndGlyphs" stroke="#131722" stroke-width="0.1">2,800.00</text>
<text x="794.4" y="194.4" font-size="9.6" fill="#131722" textLength="34.6" lengthAdjust="spacingAndGlyphs" stroke="#131722" stroke-width="0.1">3,000.00</text>
<text x="794.4" y="162.2" font-size="9.6" fill="#131722" textLength="34.6" lengthAdjust="spacingAndGlyphs" stroke="#131722" stroke-width="0.1">3,200.00</text>
<text x="794.4" y="130.1" font-size="9.6" fill="#131722" textLength="34.6" lengthAdjust="spacingAndGlyphs" stroke="#131722" stroke-width="0.1">3,400.00</text>
<text x="794.4" y="97.9" font-size="9.6" fill="#131722" textLength="34.6" lengthAdjust="spacingAndGlyphs" stroke="#131722" stroke-width="0.1">3,600.00</text>
<text x="794.4" y="65.8" font-size="9.6" fill="#131722" textLength="34.6" lengthAdjust="spacingAndGlyphs" stroke="#131722" stroke-width="0.1">3,800.00</text>
<text x="794.4" y="34.8" font-size="9.6" fill="#131722" textLength="34.6" lengthAdjust="spacingAndGlyphs" stroke="#131722" stroke-width="0.1">4,000.00</text>
<rect x="790" y="20" width="45" height="11" fill="#fff"/>
<line x1="780" y1="31.5" x2="836.5" y2="31.5" stroke="#f0f1f4" stroke-width="1"/>
<rect x="787.8" y="247" width="44.2" height="13.2" rx="1.5" fill="#F23645"/>
<text x="794.2" y="257.1" font-size="9.6" fill="#fff" textLength="34.6" lengthAdjust="spacingAndGlyphs" font-weight="bold">2,616.30</text>
<text x="60.1" y="409.3" font-size="9.6" fill="#131722" textLength="20.3" lengthAdjust="spacingAndGlyphs" font-weight="bold">2025</text>
<text x="131.9" y="409.3" font-size="9.6" fill="#131722" textLength="14.2" lengthAdjust="spacingAndGlyphs" stroke="#131722" stroke-width="0.1">Feb</text>
<text x="191.1" y="409.3" font-size="9.6" fill="#131722" textLength="15" lengthAdjust="spacingAndGlyphs" stroke="#131722" stroke-width="0.1">Mar</text>
<text x="248.9" y="409.3" font-size="9.6" fill="#131722" textLength="13.4" lengthAdjust="spacingAndGlyphs" stroke="#131722" stroke-width="0.1">Apr</text>
<text x="305.3" y="409.3" font-size="9.6" fill="#131722" textLength="15.4" lengthAdjust="spacingAndGlyphs" stroke="#131722" stroke-width="0.1">May</text>
<text x="369.0" y="409.3" font-size="9.6" fill="#131722" textLength="13.6" lengthAdjust="spacingAndGlyphs" stroke="#131722" stroke-width="0.1">Jun</text>
<text x="433.1" y="409.3" font-size="9.6" fill="#131722" textLength="11" lengthAdjust="spacingAndGlyphs" stroke="#131722" stroke-width="0.1">Jul</text>
<text x="500.2" y="409.3" font-size="9.6" fill="#131722" textLength="14.4" lengthAdjust="spacingAndGlyphs" stroke="#131722" stroke-width="0.1">Aug</text>
<text x="557.5" y="409.3" font-size="9.6" fill="#131722" textLength="13.8" lengthAdjust="spacingAndGlyphs" stroke="#131722" stroke-width="0.1">Sep</text>
<text x="623.3" y="409.3" font-size="9.6" fill="#131722" textLength="13.4" lengthAdjust="spacingAndGlyphs" stroke="#131722" stroke-width="0.1">Oct</text>
<text x="685.6" y="409.3" font-size="9.6" fill="#131722" textLength="14.8" lengthAdjust="spacingAndGlyphs" stroke="#131722" stroke-width="0.1">Nov</text>
<text x="743.4" y="409.3" font-size="9.6" fill="#131722" textLength="14.2" lengthAdjust="spacingAndGlyphs" stroke="#131722" stroke-width="0.1">Dec</text>
<circle cx="61.1" cy="385.9" r="7.2" fill="#fff" stroke="#FF9800" stroke-width="1.45" stroke-opacity="0.82"/>
<text x="58.80" y="389.2" font-size="9.4" font-weight="bold" fill="#FF9800" textLength="4.6" lengthAdjust="spacingAndGlyphs">S</text>
<path d="M147.60000000000002 392V383.2L154.3 378.7L161.0 383.2V392Q161.0 393.3 159.70000000000002 393.3H148.9Q147.60000000000002 393.3 147.60000000000002 392Z" fill="#fff" stroke="#089981" stroke-width="1.4" stroke-opacity="0.82" stroke-linejoin="round"/>
<text x="151.90" y="389.7" font-size="9.4" font-weight="bold" fill="#089981" textLength="4.8" lengthAdjust="spacingAndGlyphs">E</text>
<circle cx="282.4" cy="385.9" r="7.2" fill="#fff" stroke="#2962FF" stroke-width="1.45" stroke-opacity="0.82"/>
<text x="279.80" y="389.2" font-size="9.4" font-weight="bold" fill="#2962FF" textLength="5.2" lengthAdjust="spacingAndGlyphs">D</text>
<path d="M363.40000000000003 380.6Q363.40000000000003 379.3 364.70000000000005 379.3H375.5Q376.8 379.3 376.8 380.6V389.4L370.1 393.9L363.40000000000003 389.4Z" fill="#fff" stroke="#F23645" stroke-width="1.4" stroke-opacity="0.82" stroke-linejoin="round"/>
<text x="367.70" y="388.7" font-size="9.4" font-weight="bold" fill="#F23645" textLength="4.8" lengthAdjust="spacingAndGlyphs">E</text>
<path d="M489.0 380.6Q489.0 379.3 490.3 379.3H501.09999999999997Q502.4 379.3 502.4 380.6V389.4L495.7 393.9L489.0 389.4Z" fill="#fff" stroke="#F23645" stroke-width="1.4" stroke-opacity="0.82" stroke-linejoin="round"/>
<text x="493.30" y="388.7" font-size="9.4" font-weight="bold" fill="#F23645" textLength="4.8" lengthAdjust="spacingAndGlyphs">E</text>
<circle cx="606.4" cy="385.9" r="7.2" fill="#fff" stroke="#2962FF" stroke-width="1.45" stroke-opacity="0.82"/>
<text x="603.80" y="389.2" font-size="9.4" font-weight="bold" fill="#2962FF" textLength="5.2" lengthAdjust="spacingAndGlyphs">D</text>
<path d="M671.5 392V383.2L678.2 378.7L684.9000000000001 383.2V392Q684.9000000000001 393.3 683.6 393.3H672.8000000000001Q671.5 393.3 671.5 392Z" fill="#fff" stroke="#089981" stroke-width="1.4" stroke-opacity="0.82" stroke-linejoin="round"/>
<text x="675.80" y="389.7" font-size="9.4" font-weight="bold" fill="#089981" textLength="4.8" lengthAdjust="spacingAndGlyphs">E</text>
<circle cx="696.3" cy="385.9" r="7.2" fill="#fff" stroke="#2962FF" stroke-width="1.45" stroke-opacity="0.82"/>
<text x="693.70" y="389.2" font-size="9.4" font-weight="bold" fill="#2962FF" textLength="5.2" lengthAdjust="spacingAndGlyphs">D</text>
<g fill="#131722">
<path d="M10.1 432.9H20.1V443.3H15.1V437.9H10.1Z"/>
<circle cx="22.6" cy="435" r="1.9"/>
<path d="M26.3 432.9H31.7L27.3 443.3H21.9Z"/>
</g>
<text x="37" y="443.3" font-size="14.2" fill="#131722" textLength="89.4" lengthAdjust="spacingAndGlyphs" stroke="#131722" stroke-width="0.75">TradingView</text>
</svg>
</body></html>
